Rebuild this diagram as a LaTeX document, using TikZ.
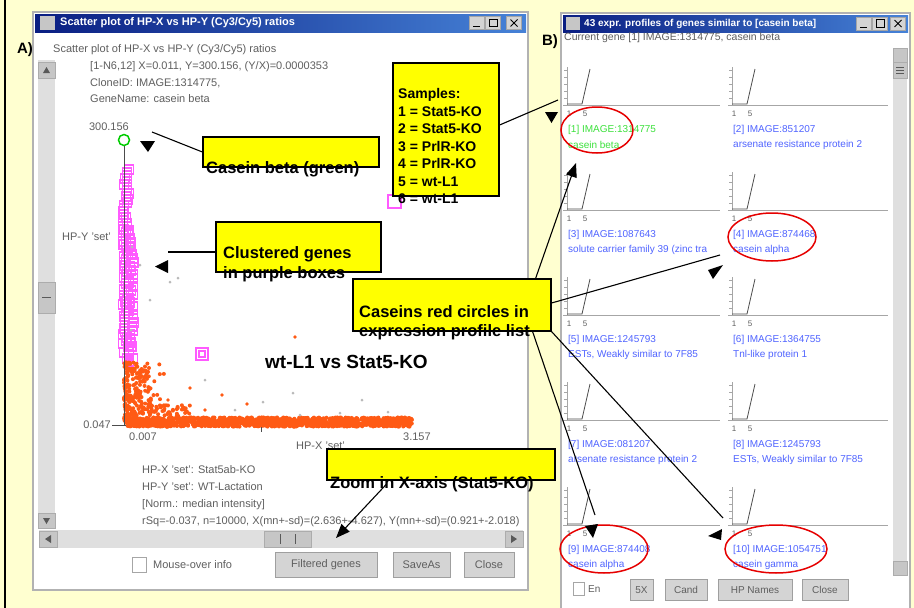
\documentclass[tikz,border=0pt]{standalone}
\usepackage{fontspec}
\setmainfont{Liberation Sans}
\usetikzlibrary{arrows.meta, shapes.geometric}
\definecolor{paper}{RGB}{255,255,208}
\definecolor{calloutyellow}{RGB}{255,255,0}
\definecolor{titleleft}{RGB}{10,30,130}
\definecolor{titleright}{RGB}{70,130,215}
\definecolor{scrgray}{RGB}{95,95,95}
\definecolor{btngray}{RGB}{212,212,212}
\definecolor{purplebox}{RGB}{255,90,255}
\definecolor{orangedot}{RGB}{255,90,20}
\definecolor{labelblue}{RGB}{80,100,255}
\definecolor{labelgreen}{RGB}{60,225,60}
\definecolor{ringred}{RGB}{230,0,0}
\tikzset{
  callbox/.style={rectangle, draw, line width=1.2pt, fill=calloutyellow, inner sep=0pt},
  calltext/.style={anchor=base west, inner sep=0pt, font=\fontsize{16.5}{20}\selectfont\bfseries},
  sampletext/.style={calltext, font=\fontsize{14}{17}\selectfont\bfseries},
  callline/.style={line width=1.1pt},
  callarrow/.style={callline, -{Triangle[length=14pt,width=11pt]}},
  headmark/.style={fill=black},
  winframe/.style={fill=white, draw=gray!60, line width=2pt},
  titlebar/.style={left color=titleleft, right color=titleright},
  titletext/.style={anchor=west, inner sep=0pt, text=white, font=\fontsize{11}{13}\selectfont\bfseries},
  tbtn/.style={rectangle, fill=btngray, draw=gray!70, minimum width=15pt, minimum height=13pt, inner sep=0pt},
  scrtext/.style={anchor=west, inner sep=0pt, text=scrgray, font=\fontsize{11}{13}\selectfont},
  winbtn/.style={rectangle, draw=gray!75, fill=btngray, inner sep=0pt, text=scrgray, font=\fontsize{11}{13}\selectfont},
  sbtrack/.style={fill=gray!25},
  sbbtn/.style={fill=gray!45, draw=gray!65},
  pbox/.style={draw=purplebox, line width=1.1pt},
  odot/.style={fill=orangedot},
  gdot/.style={fill=gray!55},
  redring/.style={ellipse, draw=ringred, line width=1.5pt, inner sep=0pt},
  profaxis/.style={draw=gray!70, line width=0.8pt},
  profline/.style={draw=gray!60!black, line width=0.8pt},
  tickno/.style={inner sep=0pt, text=scrgray, font=\fontsize{8}{9}\selectfont},
  proflabel/.style={anchor=west, inner sep=0pt, font=\fontsize{10}{12}\selectfont},
}

\begin{document}
\begin{tikzpicture}[x=1pt, y=-1pt]
  \useasboundingbox (0,0) rectangle (914,608);
  % page
  \fill[paper] (0,0) rectangle (914,608);
  \draw[line width=1.2pt] (5,0) -- (5,608);

  % Window A: scatter plot
  \draw[winframe] (33,12) rectangle (528,590);
  \fill[titlebar] (35,14) rectangle (526,32);
  \fill[gray!45] (40,16) rectangle (55,30);
  \node[titletext] (atitle) at (60,23) {Scatter plot of HP-X vs HP-Y (Cy3/Cy5) ratios};
  \node[tbtn] (amin) at (477,23) {};
  \node[tbtn] (amax) at (493,23) {};
  \node[tbtn] (aclose) at (514,23) {};
  \draw[thick] (473,26.5) -- (480,26.5);
  \draw (489,19) rectangle (497,26.5);
  \draw[thick] (510.5,19.5) -- (517.5,26.5) (510.5,26.5) -- (517.5,19.5);
  \node[font=\fontsize{15}{17}\selectfont\bfseries] (alabel) at (25,50) {A)};

  \node[scrtext] (ahead) at (53,50) {Scatter plot of HP-X vs HP-Y (Cy3/Cy5) ratios};
  \node[scrtext] (ainfo1) at (90,67) {[1-N6,12] X=0.011, Y=300.156, (Y/X)=0.0000353};
  \node[scrtext] (ainfo2) at (90,83) {CloneID: IMAGE:1314775,};
  \node[scrtext] (ainfo3) at (90,99) {GeneName: casein beta};

  % left scrollbar
  \fill[sbtrack] (38,60) rectangle (55,528);
  \draw[sbbtn] (38,62) rectangle (55,78);
  \draw[sbbtn] (38,282) rectangle (55,313);
  \draw[sbbtn] (38,513) rectangle (55,528);
  \fill[gray!70!black] (43,73) -- (50,73) -- (46.5,67) -- cycle;
  \fill[gray!70!black] (43,518) -- (50,518) -- (46.5,524) -- cycle;
  \draw[gray!70!black] (42,297.5) -- (51,297.5);

  % bottom scrollbar
  \fill[sbtrack] (39,530) rectangle (523,548);
  \draw[sbbtn] (39,531) rectangle (57,547);
  \draw[sbbtn] (505,531) rectangle (523,547);
  \draw[sbbtn] (264,531) rectangle (311,547);
  \fill[gray!70!black] (51,535) -- (51,543) -- (45,539) -- cycle;
  \fill[gray!70!black] (511,535) -- (511,543) -- (517,539) -- cycle;
  \draw[gray!70!black] (280,534) -- (280,544) (295,534) -- (295,544);

  % plot: purple boxes
  \pgfmathsetseed{11}
  \foreach \yy in {165,168,...,362}
    \draw[pbox] ({118+7*rnd},\yy) rectangle ++(9,9);
  \foreach \yy in {226,230,...,354}
    \draw[pbox] ({124+6*rnd},\yy) rectangle ++(9,9);
  \draw[pbox] (196,348) rectangle ++(12,12);
  \draw[pbox] (199,351) rectangle ++(6,6);
  \draw[pbox] (388,195) rectangle ++(13,13);

  % plot: orange points
  \foreach \i in {1,...,1300}
    \fill[odot] ({126+286*rnd},{422+4.5*rand}) circle (2.1);
  \foreach \i in {1,...,220}
    \fill[odot] ({124+42*rnd*rnd},{362+60*rnd}) circle (2);
  \foreach \i in {1,...,60}
    \fill[odot] ({130+60*rnd},{405+12*rnd}) circle (2);
  \foreach \px/\py in {295/337, 222/395, 168/400, 247/404, 190/388, 205/410}
    \fill[odot] (\px,\py) circle (1.9);

  % plot: grey points
  \foreach \px/\py in {170/282, 178/278, 235/410, 293/393, 362/400, 263/402, 300/415, 340/413, 388/412, 205/380, 150/300, 140/265, 132/247, 131/330}
    \fill[gdot] (\px,\py) circle (1.5);

  % plot: axes
  \draw[gray!60!black, line width=0.8pt] (124,145) -- (124,425);
  \draw[gray!60!black, line width=0.8pt] (112,425) -- (126,425);
  \draw[gray!60!black, line width=0.8pt] (261,427) -- (261,432);
  \draw[green!80!black, line width=1.5pt] (124,140) circle (5.5);
  \node[scrtext, anchor=east] (ymax) at (129,127) {300.156};
  \node[scrtext, anchor=east] (ymin) at (111,425) {0.047};
  \node[scrtext] (xmin) at (129,437) {0.007};
  \node[scrtext] (xmax) at (403,437) {3.157};
  \node[scrtext] (xname) at (296,446) {HP-X 'set'};
  \node[scrtext] (yname) at (62,237) {HP-Y 'set'};
  \node[calltext, font=\fontsize{19}{22}\selectfont\bfseries] (pairname) at (265,368) {wt-L1 vs Stat5-KO};

  \node[scrtext] (aset1) at (142,470) {HP-X 'set': Stat5ab-KO};
  \node[scrtext] (aset2) at (142,487) {HP-Y 'set': WT-Lactation};
  \node[scrtext] (anorm) at (142,505) {[Norm.: median intensity]};
  \begin{scope}
    \clip (140,510) rectangle (524,530);
    \node[scrtext] (astat) at (142,522) {rSq=-0.037, n=10000, X(mn+-sd)=(2.636+-4.627), Y(mn+-sd)=(0.921+-2.018)};
  \end{scope}

  % bottom buttons A
  \draw[fill=white, draw=gray!70] (132,557) rectangle (146,572);
  \node[scrtext] (mouseover) at (153,564.5) {Mouse-over info};
  \node[winbtn, minimum width=102pt, minimum height=25pt] (filtbtn) at (326,564.5) {Filtered genes};
  \node[winbtn, minimum width=57pt, minimum height=25pt] (savebtn) at (421.5,564.5) {SaveAs};
  \node[winbtn, minimum width=50pt, minimum height=25pt] (aclosebtn) at (489,564.5) {Close};

  % Window B: expression profiles
  \draw[winframe] (561,13) rectangle (910,614);
  \fill[titlebar] (563,15) rectangle (908,32);
  \fill[gray!45] (566,17) rectangle (580,30);
  \node[titletext, font=\fontsize{10}{12}\selectfont\bfseries] (btitle) at (584,23.5) {43 expr. profiles of genes similar to [casein beta]};
  \node[tbtn] (bmin) at (864,23.5) {};
  \node[tbtn] (bmax) at (880,23.5) {};
  \node[tbtn] (bclose) at (898,23.5) {};
  \draw[thick] (860,27) -- (867,27);
  \draw (876,19.5) rectangle (884,27);
  \draw[thick] (894.5,20) -- (901.5,27) (894.5,27) -- (901.5,20);
  \node[font=\fontsize{15}{17}\selectfont\bfseries] (blabel) at (550,42) {B)};
  \node[scrtext, font=\fontsize{10.5}{12}\selectfont] (bhead) at (564,38) {Current gene [1] IMAGE:1314775, casein beta};

  % right scrollbar
  \fill[sbtrack] (893,48) rectangle (907,576);
  \draw[sbbtn] (893,48) rectangle (907,62);
  \draw[sbbtn] (893,62) rectangle (907,78);
  \draw[sbbtn] (893,561) rectangle (907,575);
  \draw[gray!70!black] (896,67) -- (904,67) (896,70) -- (904,70) (896,73) -- (904,73);

  % profile cells
  \foreach \row in {0,...,4}{
    \pgfmathsetmacro\yk{105+105*\row}
    \foreach \xo/\xe in {567/720, 732/888}{
      \draw[profaxis] (\xo-4,\yk) -- (\xe,\yk);
      \draw[profaxis] (\xo,\yk) -- (\xo,\yk-38);
      \foreach \t in {0,7,...,35}
        \draw[profaxis] (\xo-3,\yk-\t) -- (\xo,\yk-\t);
      \draw[profline] (\xo,\yk-1) -- (\xo+15,\yk-1) -- (\xo+23,\yk-36);
      \node[tickno] at (\xo+2,\yk+9) {1};
      \node[tickno] at (\xo+18,\yk+9) {5};
    }
  }
  \foreach \xo/\yk/\idtext/\genetext/\tcol in {
      568/105/{[1] IMAGE:1314775}/{casein beta}/labelgreen,
      733/105/{[2] IMAGE:851207}/{arsenate resistance protein 2}/labelblue,
      568/210/{[3] IMAGE:1087643}/{solute carrier family 39 (zinc tra}/labelblue,
      733/210/{[4] IMAGE:874468}/{casein alpha}/labelblue,
      568/315/{[5] IMAGE:1245793}/{ESTs, Weakly similar to 7F85}/labelblue,
      733/315/{[6] IMAGE:1364755}/{Tnl-like protein 1}/labelblue,
      568/420/{[7] IMAGE:081207}/{arsenate resistance protein 2}/labelblue,
      733/420/{[8] IMAGE:1245793}/{ESTs, Weakly similar to 7F85}/labelblue,
      568/525/{[9] IMAGE:874408}/{casein alpha}/labelblue,
      733/525/{[10] IMAGE:1054751}/{casein gamma}/labelblue}{
    \node[proflabel, text=\tcol] at (\xo,\yk+25) {\idtext};
    \node[proflabel, text=\tcol] at (\xo,\yk+40) {\genetext};
  }

  % bottom buttons B
  \draw[fill=white, draw=gray!70] (573,582) rectangle (584,595);
  \node[scrtext, font=\fontsize{10}{12}\selectfont] (entext) at (588,589) {En};
  \node[winbtn, minimum width=23pt, minimum height=21pt, font=\fontsize{10}{12}\selectfont] (zoombtn) at (641.5,590) {5X};
  \node[winbtn, minimum width=42pt, minimum height=21pt, font=\fontsize{10}{12}\selectfont] (candbtn) at (686,590) {Cand};
  \node[winbtn, minimum width=74pt, minimum height=21pt, font=\fontsize{10}{12}\selectfont] (hpbtn) at (755,590) {HP Names};
  \node[winbtn, minimum width=46pt, minimum height=21pt, font=\fontsize{10}{12}\selectfont] (bclosebtn) at (825,590) {Close};

  % red circles
  \node[redring, minimum width=72pt, minimum height=46pt] (ring1) at (597,130) {};
  \node[redring, minimum width=88pt, minimum height=48pt] (ring4) at (772,237) {};
  \node[redring, minimum width=88pt, minimum height=48pt] (ring9) at (604,549) {};
  \node[redring, minimum width=102pt, minimum height=48pt] (ring10) at (776,549) {};

  % callout boxes
  \node[callbox, minimum width=106pt, minimum height=133pt] (samplesbox) at (446,129.5) {};
  \node[callbox, minimum width=176pt, minimum height=30pt] (betabox) at (291,152) {};
  \node[callbox, minimum width=165pt, minimum height=50pt] (clusterbox) at (298.5,247) {};
  \node[callbox, minimum width=198pt, minimum height=52pt] (caseinbox) at (452,305) {};
  \node[callbox, minimum width=228pt, minimum height=31pt] (zoombox) at (441,464.5) {};

  % callout ends
  \coordinate (sampend) at (558,100);
  \coordinate (betaend) at (152,132);
  \coordinate (clusterend) at (168,252);
  \coordinate (ring1tip) at (576,163);
  \coordinate (ring4end) at (720,255);
  \coordinate (ring9end) at (595,515);
  \coordinate (ring10end) at (723,518);
  \coordinate (zoomtip) at (336,538);

  % callout lines
  \draw[callline] ([yshift=4.5pt]samplesbox.east) -- (sampend);
  \draw[callline] (betabox.west) -- (betaend);
  \draw[callline] ([yshift=-5pt]clusterbox.west) -- (clusterend);
  \draw[callarrow] ([xshift=-16pt]caseinbox.north east) -- (ring1tip);
  \draw[callline] ([yshift=2pt]caseinbox.east) -- (ring4end);
  \draw[callline] ([xshift=-19pt]caseinbox.south east) -- (ring9end);
  \draw[callline] (caseinbox.south east) -- (ring10end);
  \draw[callarrow] ([xshift=-54pt, yshift=-3pt]zoombox.south) -- (zoomtip);

  % loose arrow heads
  \fill[headmark] (545,112) -- (558,112) -- (551.5,123) -- cycle;
  \fill[headmark] (140,141) -- (155,141) -- (148,152) -- cycle;
  \fill[headmark] (168,260) -- (168,273) -- (155,266.5) -- cycle;
  \fill[headmark] (723,265) -- (708,270) -- (713,279) -- cycle;
  \fill[headmark] (585,526) -- (598,524) -- (593,538) -- cycle;
  \fill[headmark] (722,529) -- (708,536) -- (721,540) -- cycle;

  % callout texts
  \node[sampletext] (samp0) at (398,98) {Samples:};
  \node[sampletext] (samp1) at (398,116) {1 = Stat5-KO};
  \node[sampletext] (samp2) at (398,133.5) {2 = Stat5-KO};
  \node[sampletext] (samp3) at (398,151) {3 = PrlR-KO};
  \node[sampletext] (samp4) at (398,168.5) {4 = PrlR-KO};
  \node[sampletext] (samp5) at (398,186) {5 = wt-L1};
  \node[sampletext] (samp6) at (398,203.5) {6 = wt-L1};
  \node[calltext] (betatext) at (206,173) {Casein beta (green)};
  \node[calltext] (clustertext1) at (223,258) {Clustered genes};
  \node[calltext] (clustertext2) at (223,278) {in purple boxes};
  \node[calltext] (caseintext1) at (359,317) {Caseins red circles in};
  \node[calltext] (caseintext2) at (359,336) {expression profile list};
  \node[calltext] (zoomtext) at (330,488) {Zoom in X-axis (Stat5-KO)};
\end{tikzpicture}
\end{document}
